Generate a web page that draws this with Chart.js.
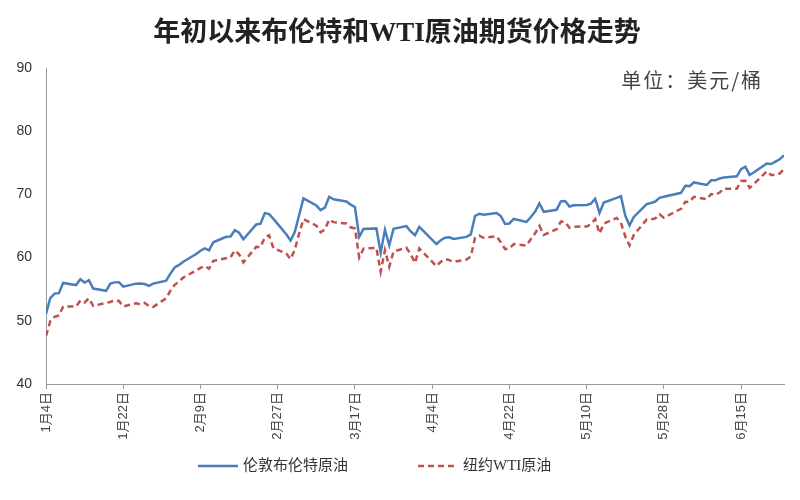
<!DOCTYPE html>
<html>
<head>
<meta charset="utf-8">
<script src="https://cdn.jsdelivr.net/npm/chart.js@4.4.1/dist/chart.umd.min.js"></script>
<style>
  body { margin: 0; background: #fff; }
</style>
</head>
<body>
<canvas id="oil-chart" width="800" height="500"></canvas>
<script>
// trading days, 2021 (month/day)
const dates = [
  '1/4','1/5','1/6','1/7','1/8','1/11','1/12','1/13','1/14','1/15','1/18','1/19','1/20','1/21','1/22','1/25','1/26','1/27','1/28','1/29',
  '2/1','2/2','2/3','2/4','2/5','2/8','2/9','2/10','2/11','2/12','2/15','2/16','2/17','2/18','2/19','2/22','2/23','2/24','2/25','2/26',
  '3/1','3/2','3/3','3/4','3/5','3/8','3/9','3/10','3/11','3/12','3/15','3/16','3/17','3/18','3/19','3/22','3/23','3/24','3/25','3/26','3/29','3/30','3/31',
  '4/1','4/5','4/6','4/7','4/8','4/9','4/12','4/13','4/14','4/15','4/16','4/19','4/20','4/21','4/22','4/23','4/26','4/27','4/28','4/29','4/30',
  '5/3','5/4','5/5','5/6','5/7','5/10','5/11','5/12','5/13','5/14','5/17','5/18','5/19','5/20','5/21','5/24','5/25','5/26','5/27','5/28',
  '6/1','6/2','6/3','6/4','6/7','6/8','6/9','6/10','6/11','6/14','6/15','6/16','6/17','6/18','6/21','6/22','6/23','6/24','6/25'
];

// 伦敦布伦特原油
const brent = [
  51.09,53.60,54.30,54.38,55.99,55.66,56.58,56.06,56.42,55.10,54.75,55.90,56.08,56.10,55.41,55.88,55.91,55.81,55.53,55.88,
  56.35,57.46,58.46,58.84,59.34,60.56,61.09,61.47,61.14,62.43,63.30,63.35,64.34,63.93,62.91,65.24,65.37,67.04,66.88,66.13,
  63.69,62.70,64.07,66.74,69.36,68.24,67.52,67.90,69.63,69.22,68.88,68.39,68.00,63.28,64.53,64.62,60.79,64.41,61.95,64.57,64.98,64.14,63.54,
  64.86,62.15,62.74,63.16,63.20,62.95,63.28,63.67,66.58,66.94,66.77,67.05,66.57,65.32,65.40,66.11,65.65,66.42,67.27,68.56,67.25,
  67.56,68.88,68.96,68.09,68.28,68.32,68.55,69.32,67.05,68.71,69.46,69.71,66.66,65.11,66.44,68.46,68.65,68.87,69.46,69.63,
  70.25,71.35,71.31,71.89,71.49,72.22,72.22,72.52,72.69,72.86,73.99,74.39,73.08,73.51,74.90,74.81,75.19,75.56,76.18
];

// 纽约WTI原油
const wti = [
  47.62,49.93,50.63,50.83,52.24,52.25,53.21,52.91,53.57,52.36,null,52.98,53.24,53.13,52.27,52.77,52.61,52.85,52.34,52.20,
  53.55,54.76,55.69,56.23,56.85,57.97,58.36,58.68,58.24,59.47,null,60.05,61.14,60.52,59.24,61.70,61.67,63.22,63.53,61.50,
  60.64,59.75,61.28,63.83,66.09,65.05,64.01,64.44,66.02,65.61,65.39,64.80,64.60,60.00,61.42,61.55,57.76,61.18,58.56,60.97,61.56,60.55,59.16,
  61.45,58.65,59.33,59.77,59.60,59.32,59.70,60.18,63.15,63.46,63.13,63.38,62.44,61.35,61.43,62.14,61.91,62.94,63.86,65.01,63.58,
  64.49,65.69,65.63,64.71,64.90,64.92,65.28,66.08,63.82,65.37,66.27,65.49,63.36,61.94,63.58,66.05,66.07,66.21,66.85,66.32,
  67.72,68.83,68.81,69.62,69.23,70.05,69.96,70.29,70.91,70.88,72.12,72.15,71.04,71.64,73.66,73.06,73.08,73.30,74.05
];

// x axis labels, one every 18 calendar days from 1/4
const tickLabels = ['1月4日','1月22日','2月9日','2月27日','3月17日','4月4日','4月22日','5月10日','5月28日','6月15日'];

const CJK = '"Noto Sans CJK SC"';

// day number counted from 1/4
function dayOf(s) {
  const [m, d] = s.split('/').map(Number);
  return (Date.UTC(2021, m - 1, d) - Date.UTC(2021, 0, 4)) / 864e5;
}
const toPoints = vals => dates.map((s, i) => ({x: dayOf(s), y: vals[i]}));

// unit text in the top right corner of the plot
const unitLabel = {
  id: 'unitLabel',
  afterDraw(chart) {
    const {ctx, chartArea} = chart;
    ctx.save();
    ctx.font = '20px ' + CJK;
    ctx.letterSpacing = '2px';
    ctx.fillStyle = '#444';
    ctx.textAlign = 'right';
    ctx.textBaseline = 'middle';
    ctx.fillText('单位：美元/桶', chartArea.right - 21, chartArea.top + 12);
    ctx.restore();
  }
};

// legend under the axis labels, line samples taken from the datasets
const lineLegend = {
  id: 'lineLegend',
  afterDraw(chart) {
    const {ctx} = chart;
    const y = 466;
    let x = 198;
    ctx.save();
    ctx.font = '15px "Liberation Serif", ' + CJK;
    ctx.textBaseline = 'middle';
    chart.data.datasets.forEach(ds => {
      ctx.strokeStyle = ds.borderColor;
      ctx.lineWidth = ds.borderWidth;
      ctx.setLineDash(ds.borderDash || []);
      ctx.beginPath();
      ctx.moveTo(x, y);
      ctx.lineTo(x + 40, y);
      ctx.stroke();
      ctx.fillStyle = '#333';
      ctx.fillText(ds.label, x + 45, y);
      x += 45 + ctx.measureText(ds.label).width + 70;
    });
    ctx.restore();
  }
};

const ctx = document.getElementById('oil-chart').getContext('2d');
new Chart(ctx, {
  type: 'line',
  data: {
    datasets: [{
      label: '伦敦布伦特原油',
      data: toPoints(brent),
      borderColor: '#4a7ebb',
      borderWidth: 2.5,
      pointRadius: 0,
      spanGaps: true,
      tension: 0
    }, {
      label: '纽约WTI原油',
      data: toPoints(wti),
      borderColor: '#c0504d',
      borderWidth: 2.5,
      borderDash: [6, 4],
      pointRadius: 0,
      spanGaps: true,
      tension: 0
    }]
  },
  options: {
    responsive: false,
    animation: false,
    layout: {padding: {left: 10, right: 16, top: 0, bottom: 0}},
    scales: {
      x: {
        type: 'linear',
        min: 0,
        max: 172,
        afterFit: scale => { scale.height = 116; },
        grid: {drawOnChartArea: false, tickLength: 5, color: '#999'},
        border: {color: '#999'},
        ticks: {
          stepSize: 18,
          includeBounds: false,
          autoSkip: false,
          minRotation: 90,
          maxRotation: 90,
          color: '#444',
          font: {size: 13, family: '"Liberation Sans", ' + CJK},
          callback: v => tickLabels[v / 18]
        }
      },
      y: {
        min: 40,
        max: 90,
        afterFit: scale => { scale.width = 36; },
        grid: {display: false, drawTicks: false},
        border: {color: '#999'},
        ticks: {
          stepSize: 10,
          padding: 14,
          color: '#333',
          font: {size: 14, family: '"Liberation Sans"'}
        }
      }
    },
    plugins: {
      title: {
        display: true,
        text: '年初以来布伦特和WTI原油期货价格走势',
        color: '#222',
        font: {size: 27, weight: 'bold', family: '"Liberation Serif", ' + CJK},
        padding: {top: 18, bottom: 17.6}
      },
      legend: {display: false},
      tooltip: {enabled: false}
    }
  },
  plugins: [unitLabel, lineLegend]
});
</script>
</body>
</html>
